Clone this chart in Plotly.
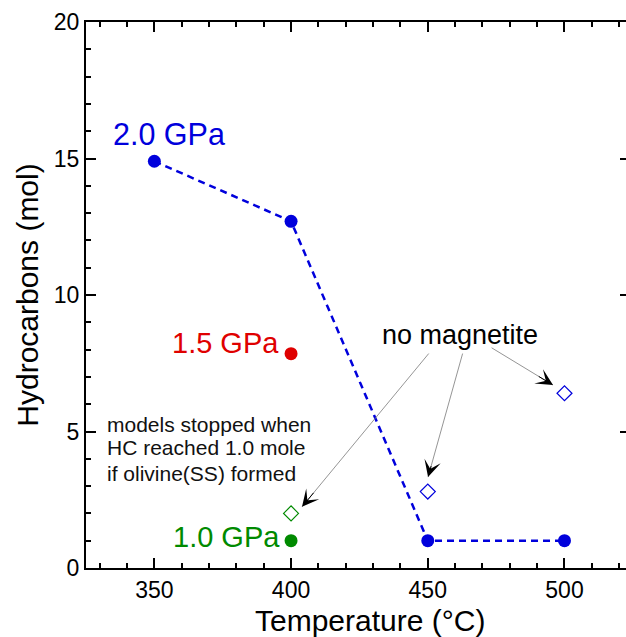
import plotly.graph_objects as go

# ---- data ----
temp_2gpa = [350, 400, 450, 500]
hc_2gpa = [14.9, 12.7, 1.0, 1.0]
temp_15gpa = [400]
hc_15gpa = [7.85]
temp_10gpa = [400]
hc_10gpa = [1.0]
temp_nomag_green = [400]
hc_nomag_green = [2.0]
temp_nomag_blue = [450, 500]
hc_nomag_blue = [2.8, 6.4]

# arrow tails (text side) and tips (point side), data units
arrow_tail_x = [450.8, 462.9, 472.8]
arrow_tail_y = [7.91, 7.91, 8.10]
arrow_tip_x = [404.0, 450.1, 495.8]
arrow_tip_y = [2.24, 3.33, 6.70]
head_frac = [0.10, 0.10, 0.25]

BLUE = "#0000DC"
RED = "#DF0000"
GREEN = "#008A00"
FONT = "Liberation Sans, Arial, Helvetica, sans-serif"

fig = go.Figure()
fig.add_trace(go.Scatter(x=temp_2gpa, y=hc_2gpa, mode="lines+markers",
                         line=dict(color=BLUE, width=2.5, dash="7px,5px"),
                         marker=dict(color=BLUE, size=13, symbol="circle"),
                         showlegend=False))
fig.add_trace(go.Scatter(x=temp_15gpa, y=hc_15gpa, mode="markers",
                         marker=dict(color=RED, size=13), showlegend=False))
fig.add_trace(go.Scatter(x=temp_10gpa, y=hc_10gpa, mode="markers",
                         marker=dict(color=GREEN, size=13), showlegend=False))
fig.add_trace(go.Scatter(x=temp_nomag_green, y=hc_nomag_green, mode="markers",
                         marker=dict(color=GREEN, size=11.5, symbol="diamond-open",
                                     line=dict(width=1.2, color=GREEN)),
                         showlegend=False))
fig.add_trace(go.Scatter(x=temp_nomag_blue, y=hc_nomag_blue, mode="markers",
                         marker=dict(color=BLUE, size=11.5, symbol="diamond-open",
                                     line=dict(width=1.2, color=BLUE)),
                         showlegend=False))
# dummy for right-side ticks axis
fig.add_trace(go.Scatter(x=[None], y=[None], yaxis="y2", showlegend=False,
                         hoverinfo="skip"))

annotations = [
    dict(x=334.0, y=15.9, text="2.0 GPa", xanchor="left", yanchor="middle",
         font=dict(color=BLUE, size=30.5, family=FONT)),
    dict(x=396.5, y=8.26, text="1.5 GPa", xanchor="right", yanchor="middle",
         font=dict(color=RED, size=29, family=FONT)),
    dict(x=396.8, y=1.15, text="1.0 GPa", xanchor="right", yanchor="middle",
         font=dict(color=GREEN, size=29, family=FONT)),
    dict(x=461.8, y=8.53, text="no magnetite", xanchor="center", yanchor="middle",
         font=dict(color="black", size=27, family=FONT)),
    dict(x=0.526, y=-0.062, xref="paper", yref="paper", text="Temperature (°C)",
         xanchor="center", yanchor="top", font=dict(color="black", size=30, family=FONT)),
]
models_lines = ["models stopped when", "HC reached 1.0 mole", "if olivine(SS) formed"]
models_y = [5.24, 4.40, 3.48]
for txt, yy in zip(models_lines, models_y):
    annotations.append(dict(x=332.0, y=yy, text=txt, xanchor="left", yanchor="middle",
                            font=dict(color="#111111", size=21, family=FONT)))

for tx, ty, hx, hy, f in zip(arrow_tail_x, arrow_tail_y, arrow_tip_x, arrow_tip_y, head_frac):
    # thin gray shaft
    annotations.append(dict(x=hx, y=hy, ax=tx, ay=ty, axref="x", ayref="y",
                            text="", showarrow=True, arrowhead=0, arrowwidth=0.8,
                            arrowcolor="#7a7a7a", font=dict(size=1)))
    # black head
    annotations.append(dict(x=hx, y=hy, ax=hx + (tx - hx) * f, ay=hy + (ty - hy) * f,
                            axref="x", ayref="y", text="", showarrow=True,
                            arrowhead=3, arrowwidth=1, arrowsize=2.8,
                            arrowcolor="black", font=dict(size=1)))

for a in annotations:
    a.setdefault("showarrow", False)
    a.setdefault("xref", "x")
    a.setdefault("yref", "y")

fig.update_layout(
    width=626, height=637,
    margin=dict(l=86, r=0, t=22, b=69),
    plot_bgcolor="white", paper_bgcolor="white",
    font=dict(family=FONT, color="black"),
    annotations=annotations,
    xaxis=dict(range=[325, 522.5], tickvals=[350, 400, 450, 500],
               ticks="inside", ticklen=10, tickwidth=2, tickcolor="black",
               minor=dict(dtick=10, tick0=0, ticks="inside", ticklen=5, tickwidth=2,
                          tickcolor="black", showgrid=False),
               showline=True, linewidth=2, linecolor="black", mirror="ticks",
               showgrid=False, zeroline=False,
               tickfont=dict(size=23, family=FONT)),
    yaxis=dict(range=[0, 20], tickvals=[0, 5, 10, 15, 20],
               ticks="inside", ticklen=10, tickwidth=2, tickcolor="black",
               minor=dict(dtick=1, tick0=0, ticks="inside", ticklen=5, tickwidth=2,
                          tickcolor="black", showgrid=False),
               showline=True, linewidth=2, linecolor="black", mirror=False,
               showgrid=False, zeroline=False,
               tickfont=dict(size=23, family=FONT),
               title=dict(text="Hydrocarbons (mol)", font=dict(size=30, family=FONT),
                          standoff=6)),
    yaxis2=dict(range=[0, 20], overlaying="y", side="right",
                tickvals=[0, 5, 10, 15, 20], ticks="inside", ticklen=6, tickwidth=2,
                tickcolor="black", showticklabels=False, showline=False,
                showgrid=False, zeroline=False),
)

fig.write_html("out.html")
